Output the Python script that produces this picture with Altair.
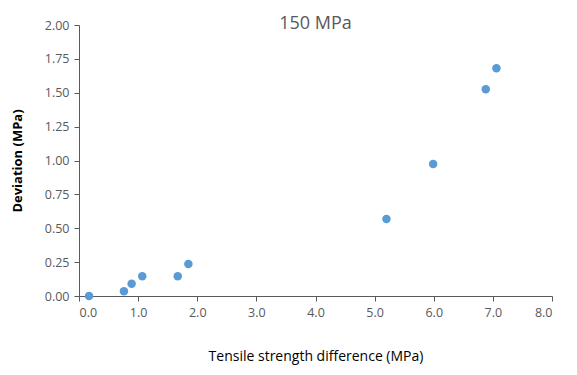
import altair as alt
import pandas as pd

x_vals = [0.17, 0.76, 0.89, 1.07, 1.67, 1.85, 5.20, 5.99, 6.88, 7.06]
y_vals = [0.00, 0.035, 0.09, 0.145, 0.145, 0.236, 0.568, 0.974, 1.525, 1.68]

df = pd.DataFrame({"x": x_vals, "y": y_vals})

FONT = "Open Sans"
GREY = "#595959"

chart = alt.Chart(df).mark_circle(size=72, opacity=1, color="#5B9BD5").encode(
    x=alt.X("x:Q", scale=alt.Scale(domain=[0, 8], nice=False),
            axis=alt.Axis(title="Tensile strength difference (MPa)", values=[0, 1, 2, 3, 4, 5, 6, 7, 8],
                          format=".1f", grid=False, domainColor=GREY, tickColor=GREY,
                          tickSize=5, labelColor=GREY, labelFont=FONT, labelFontSize=12.5,
                          labelPadding=5, titleFont=FONT, titleFontSize=14, titleFontWeight="normal",
                          titleColor="#000000", titlePadding=31)),
    y=alt.Y("y:Q", scale=alt.Scale(domain=[0, 2], nice=False),
            axis=alt.Axis(title="Deviation (MPa)", values=[0, 0.25, 0.5, 0.75, 1, 1.25, 1.5, 1.75, 2],
                          format=".2f", grid=False, domainColor=GREY, tickColor=GREY,
                          tickSize=5, labelColor=GREY, labelFont=FONT, labelFontSize=12.5,
                          labelPadding=5, titleFont=FONT, titleFontSize=13, titleFontWeight="bold",
                          titleColor="#000000", titlePadding=20)),
).properties(
    width=473, height=271,
    title=alt.TitleParams("150 MPa", font=FONT, fontSize=18, fontWeight="normal", color=GREY,
                          anchor="middle", offset=-14),
    autosize=alt.AutoSizeParams(type="none"),
    padding={"left": 71, "top": 17, "right": 17, "bottom": 71},
).configure_view(stroke=None)

chart.save("out.html", embed_options={"renderer": "svg", "actions": False})
